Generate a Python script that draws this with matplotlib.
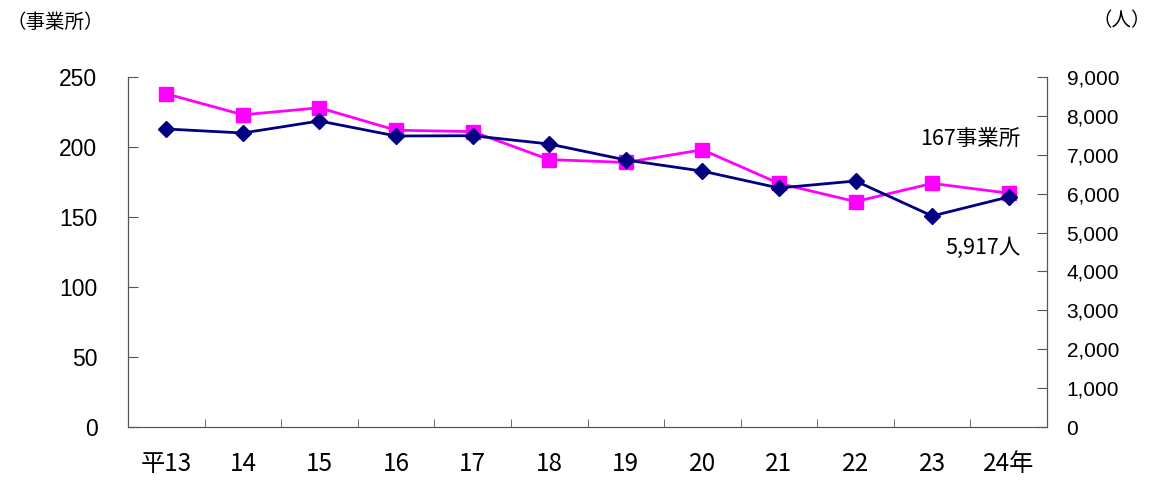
import matplotlib.pyplot as plt

plt.rcParams['font.family'] = ['Noto Sans CJK JP', 'DejaVu Sans']

years = ['平13', '14', '15', '16', '17', '18', '19', '20', '21', '22', '23', '24年']
offices = [238, 223, 228, 212, 211, 191, 189, 198, 174, 161, 174, 167]  # 事業所 (left)
workers = [7663, 7560, 7869, 7483, 7490, 7277, 6866, 6580, 6146, 6326, 5426, 5917]  # 人 (right)

fig = plt.figure(figsize=(11.51, 4.83), dpi=100)
ax = fig.add_axes([0.1112, 0.1159, 0.7985, 0.7247])
ax2 = ax.twinx()

x = range(len(years))
ax.plot(x, offices, color='#FF00FF', lw=2, marker='s', ms=10, zorder=3)
ax2.plot(x, workers, color='#000080', lw=2, marker='D', ms=8.5, zorder=3)

ax.set_xlim(-0.5, len(years) - 0.5)
ax.set_ylim(0, 250)
ax2.set_ylim(0, 9000)
ax.set_yticks(range(0, 251, 50))
ax2.set_yticks(range(0, 9001, 1000))
ax2.set_yticklabels([f'{v:,}' for v in range(0, 9001, 1000)],
                    family='Liberation Sans', fontsize=15)
ax.set_yticklabels([str(v) for v in range(0, 251, 50)],
                   family='Liberation Sans', fontsize=16.5)

ax.set_xticks(list(x))
ax.set_xticklabels(years, fontsize=17.5)
ax.set_xticks([i + 0.5 for i in range(len(years) - 1)], minor=True)
ax.tick_params(axis='x', which='major', length=0, pad=17)
ax.tick_params(axis='x', which='minor', direction='in', length=6, color='#555555')
ax.tick_params(axis='y', direction='in', length=7, pad=22, color='#555555')
ax2.tick_params(axis='y', direction='in', length=7, pad=14, color='#555555')

for a in (ax, ax2):
    a.spines['top'].set_visible(False)
    for s in ('left', 'right', 'bottom'):
        a.spines[s].set_color('#555555')

ax.text(11.15, 206, '167事業所', ha='right', va='center', fontsize=15.5)
ax2.text(11.15, 4600, '5,917人', ha='right', va='center', fontsize=15.5)

fig.text(0.006, 0.953, '（事業所）', ha='left', va='center', fontsize=14)
fig.text(1.0, 0.957, '（人）', ha='right', va='center', fontsize=14)

fig.savefig('out.png', dpi=100)
